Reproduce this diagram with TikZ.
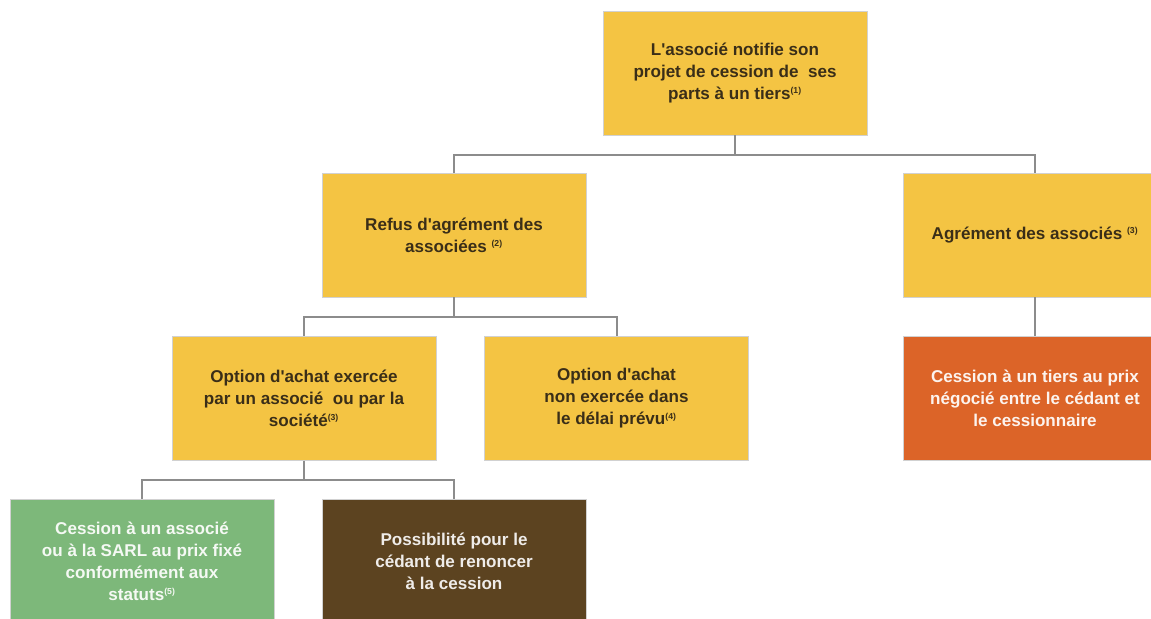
\documentclass[tikz,border=0pt]{standalone}
\usepackage{fontspec}
\setmainfont{Liberation Sans}
\usepackage{xcolor}

\definecolor{jaune}{HTML}{F4C443}
\definecolor{orange}{HTML}{DC6428}
\definecolor{vert}{HTML}{7DB87A}
\definecolor{brun}{HTML}{5C4320}
\definecolor{trait}{HTML}{8C8C8C}
\definecolor{texte}{HTML}{3A2E18}

\newcommand{\renvoi}[1]{\textsuperscript{\fontsize{6.5}{6.5}\selectfont(#1)}}
\newcommand{\apos}{\textquotesingle}

\tikzset{
  boite/.style={draw=black!18, line width=0.6pt, fill=jaune, text=texte,
    minimum width=198pt, minimum height=93pt, inner sep=0pt, align=center,
    font=\fontsize{12.8}{16.5}\selectfont\bfseries},
  boiteorange/.style={boite, fill=orange, text=white!92!orange},
  boitevert/.style={boite, fill=vert, text=white!92!vert},
  boitebrun/.style={boite, fill=brun, text=white!90!brun},
  lien/.style={draw=trait, line width=1.5pt}
}

\begin{document}
\begin{tikzpicture}[x=0.75pt,y=-0.75pt]
\clip (0,0) rectangle (1151,618);
\fill[white] (0,0) rectangle (1151,618);
\node[boite] (projet) at (735,73) {L\apos associé notifie son\\projet de cession de\ \ ses\\parts à un tiers\renvoi{1}};
\node[boite] (refus) at (454,235) {Refus d\apos agrément des\\associées \renvoi{2}};
\node[boite] (agrement) at (1035,235) {Agrément des associés \renvoi{3}};
\node[boite] (exercee) at (304,398.5) {Option d\apos achat exercée\\par un associé\ \ ou par la\\société\renvoi{3}};
\node[boite] (nonexercee) at (616.5,398.5) {Option d\apos achat\\non exercée dans\\le délai prévu\renvoi{4}};
\node[boiteorange] (tiers) at (1035,398.5) {Cession à un tiers au prix\\négocié entre le cédant et\\le cessionnaire};
\node[boitevert] (sarl) at (142,561) {Cession à un associé\\ou à la SARL au prix fixé\\conformément aux\\statuts\renvoi{5}};
\node[boitebrun] (renonce) at (454,561) {Possibilité pour le\\cédant de renoncer\\à la cession};
% liens
\draw[lien] (projet.south) -- ++(0,20) -| (refus.north);
\draw[lien] (projet.south) -- ++(0,20) -| (agrement.north);
\draw[lien] (refus.south) -- ++(0,20) -| (exercee.north);
\draw[lien] (refus.south) -- ++(0,20) -| (nonexercee.north);
\draw[lien] (agrement.south) -- (tiers.north);
\draw[lien] (exercee.south) -- ++(0,19) -| (sarl.north);
\draw[lien] (exercee.south) -- ++(0,19) -| (renonce.north);
\end{tikzpicture}
\end{document}
